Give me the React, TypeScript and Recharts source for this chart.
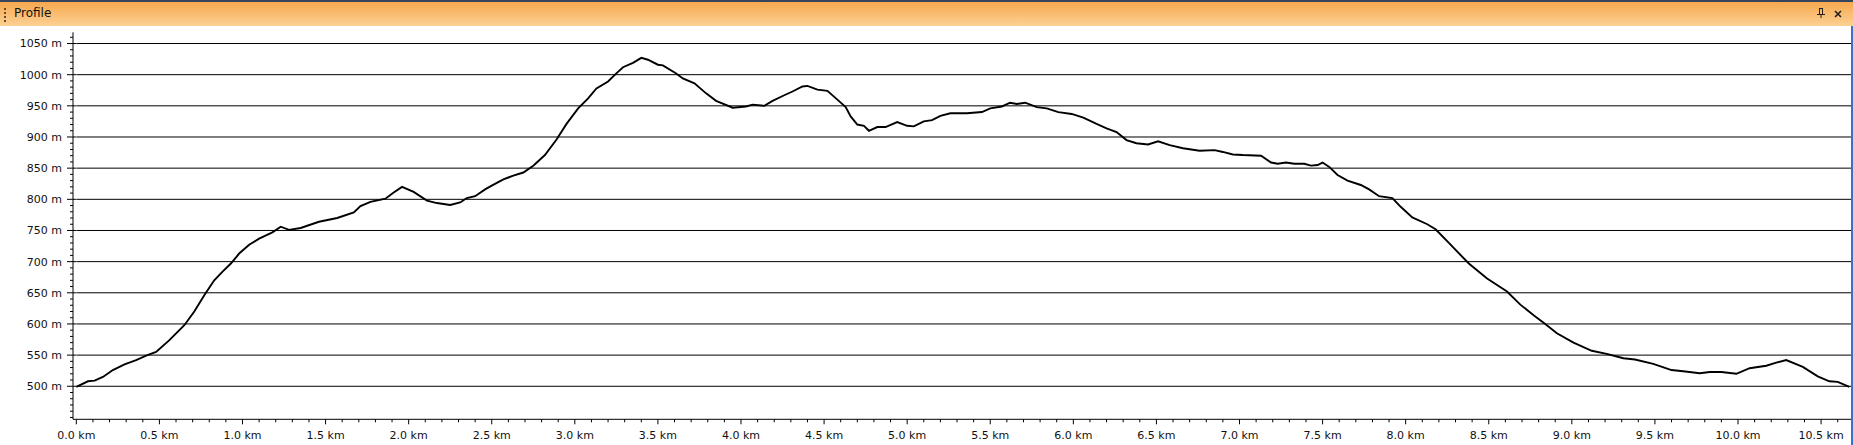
import { type JSX } from 'react'
import { Line, LineChart, ReferenceLine, XAxis, YAxis } from 'recharts'

// distance along the track (km) and elevation (m)
const distanceKm = [
  0.0, 0.07, 0.11, 0.16, 0.22, 0.29, 0.36, 0.42, 0.48, 0.56, 0.65, 0.71, 0.77, 0.83, 0.88, 0.93,
  0.98, 1.04, 1.1, 1.18, 1.23, 1.28, 1.35, 1.46, 1.57, 1.67, 1.71, 1.77, 1.86, 1.91, 1.96, 2.03,
  2.11, 2.17, 2.25, 2.31, 2.35, 2.4, 2.46, 2.5, 2.57, 2.63, 2.69, 2.75, 2.82, 2.89, 2.95, 3.02,
  3.08, 3.13, 3.2, 3.25, 3.29, 3.35, 3.4, 3.44, 3.5, 3.53, 3.61, 3.65, 3.72, 3.79, 3.85, 3.95,
  4.03, 4.07, 4.14, 4.19, 4.26, 4.31, 4.37, 4.4, 4.46, 4.52, 4.58, 4.63, 4.66, 4.7, 4.74, 4.77,
  4.82, 4.87, 4.94, 5.0, 5.04, 5.1, 5.15, 5.2, 5.26, 5.36, 5.45, 5.5, 5.57, 5.62, 5.66, 5.71,
  5.78, 5.84, 5.91, 5.99, 6.06, 6.14, 6.2, 6.26, 6.32, 6.38, 6.45, 6.51, 6.58, 6.66, 6.76, 6.85,
  6.9, 6.96, 7.02, 7.13, 7.19, 7.23, 7.28, 7.33, 7.39, 7.43, 7.47, 7.5, 7.54, 7.59, 7.65, 7.73,
  7.78, 7.84, 7.92, 7.97, 8.04, 8.13, 8.18, 8.26, 8.38, 8.49, 8.61, 8.69, 8.77, 8.84, 8.91, 9.01,
  9.12, 9.21, 9.31, 9.38, 9.49, 9.6, 9.67, 9.77, 9.83, 9.9, 9.99, 10.07, 10.17, 10.23, 10.29,
  10.39, 10.48, 10.55, 10.6, 10.67,
]
const elevationM = [
  499, 508, 509, 515, 526, 535, 542, 549, 555, 574, 598, 620, 646, 670, 684, 697,
  713, 727, 737, 747, 756, 751, 754, 764, 770, 779, 789, 796, 801, 811, 820, 812,
  798, 794, 791, 795, 802, 805, 816, 822, 832, 838, 843, 854, 871, 896, 921, 946,
  962, 978, 989, 1002, 1012, 1019, 1027, 1024, 1016, 1015, 1002, 994, 986, 970, 958, 947,
  949, 952, 950, 958, 967, 973, 981, 982, 976, 974, 960, 948, 933, 920, 918, 910,
  916, 916, 924, 918, 917, 925, 927, 934, 938, 938, 940, 946, 949, 955, 953, 955,
  948, 946, 940, 937, 931, 921, 914, 908, 895, 890, 888, 893, 887, 882, 878, 879,
  876, 872, 871, 870, 859, 857, 859, 857, 857, 854, 855, 859, 852, 839, 830, 823,
  816, 805, 802, 788, 771, 760, 752, 730, 697, 673, 652, 631, 614, 600, 585, 570,
  557, 552, 545, 543, 536, 526, 524, 521, 523, 523, 520, 529, 533, 538, 542,
  531, 516, 508, 507, 499,
]

const yLabels = [500, 550, 600, 650, 700, 750, 800, 850, 900, 950, 1000, 1050]
const xLabels = [0.0, 0.5, 1.0, 1.5, 2.0, 2.5, 3.0, 3.5, 4.0, 4.5, 5.0, 5.5, 6.0, 6.5, 7.0, 7.5, 8.0, 8.5, 9.0, 9.5, 10.0, 10.5]

const X_MAX = 10.68
const FONT = '"DejaVu Sans", Verdana, sans-serif'

const data = distanceKm.map((km, i) => ({ km, m: elevationM[i] }))

// minor ticks: every 10 m and every 0.1 km
const yTicks: number[] = []
for (let v = 450; v <= 1060; v += 10) yTicks.push(v)
const xTicks: number[] = []
for (let i = 0; i <= 106; i++) xTicks.push(i / 10)

function YTick(props: any): JSX.Element {
  const { x, y, payload } = props
  const major = yLabels.includes(payload.value)
  return (
    <g>
      <line x1={x - (major ? 6 : 3)} x2={x + (major ? 3 : 0)} y1={y} y2={y} stroke="#000" />
      {major && (
        <text x={x - 11} y={y} dy="0.36em" textAnchor="end" fontSize={11} fontFamily={FONT} fill="#111">
          {payload.value} m
        </text>
      )}
    </g>
  )
}

function XTick(props: any): JSX.Element {
  const { x, y, payload } = props
  const major = xLabels.some((l) => Math.abs(l - payload.value) < 1e-6)
  return (
    <g>
      <line x1={x} x2={x} y1={y} y2={y + (major ? 5 : 3)} stroke="#000" />
      {major && (
        <text x={x} y={y + 20} textAnchor="middle" fontSize={11} fontFamily={FONT} fill="#111">
          {payload.value.toFixed(1)} km
        </text>
      )}
    </g>
  )
}

function PinIcon(): JSX.Element {
  return (
    <svg width={8} height={10} style={{ position: 'absolute', left: 1817, top: 6 }}>
      <line x1={0} x2={8} y1={6.5} y2={6.5} stroke="#222" />
      <rect x={2.5} y={0.5} width={3} height={6} fill="none" stroke="#222" />
      <line x1={4} x2={4} y1={6.5} y2={10} stroke="#222" />
    </svg>
  )
}

function CloseIcon(): JSX.Element {
  return (
    <svg width={8} height={8} style={{ position: 'absolute', left: 1834, top: 8 }}>
      <path d="M1 1 L7 7 M7 1 L1 7" stroke="#222" strokeWidth={1.6} />
    </svg>
  )
}

export default function App(): JSX.Element {
  return (
    <div
      style={{
        position: 'fixed',
        left: 0,
        top: 0,
        width: 1853,
        height: 445,
        background: '#fff',
        overflow: 'hidden',
        fontFamily: FONT,
      }}
    >
      <div
        style={{
          position: 'absolute',
          left: 0,
          top: 0,
          width: 1853,
          height: 26,
          boxSizing: 'border-box',
          borderTop: '2px solid #36445c',
          background: 'linear-gradient(#f7a84f, #fcd193)',
        }}
      >
        <div
          style={{
            position: 'absolute',
            left: 4,
            top: 6,
            width: 2,
            height: 16,
            background: 'repeating-linear-gradient(#6b4a26 0 2px, transparent 2px 4px)',
          }}
        />
        <span style={{ position: 'absolute', left: 14, top: 4, fontSize: 12, color: '#111' }}>Profile</span>
        <PinIcon />
        <CloseIcon />
      </div>
      <div style={{ position: 'absolute', left: 1851, top: 26, width: 2, height: 419, background: '#3b6fcc' }} />
      <div style={{ position: 'absolute', left: 0, top: 26 }}>
        <LineChart width={1851} height={419} data={data} margin={{ top: 6.3, right: 0, bottom: 0, left: 0 }}>
          <XAxis
            dataKey="km"
            type="number"
            domain={[-0.02, X_MAX]}
            ticks={xTicks}
            interval={0}
            tick={<XTick />}
            tickLine={false}
            tickSize={0}
            tickMargin={0}
            height={25.7}
            axisLine={{ stroke: '#000' }}
            allowDataOverflow
          />
          <YAxis
            type="number"
            domain={[447, 1068]}
            ticks={yTicks}
            interval={0}
            tick={<YTick />}
            tickLine={false}
            tickSize={0}
            tickMargin={0}
            width={73}
            axisLine={{ stroke: '#000' }}
            allowDataOverflow
          />
          {yLabels.map((v) => (
            <ReferenceLine
              key={v}
              segment={[
                { x: 0, y: v },
                { x: X_MAX, y: v },
              ]}
              stroke="#000"
              strokeWidth={1}
            />
          ))}
          <Line
            type="linear"
            dataKey="m"
            stroke="#000"
            strokeWidth={1.9}
            dot={false}
            isAnimationActive={false}
          />
        </LineChart>
      </div>
    </div>
  )
}
